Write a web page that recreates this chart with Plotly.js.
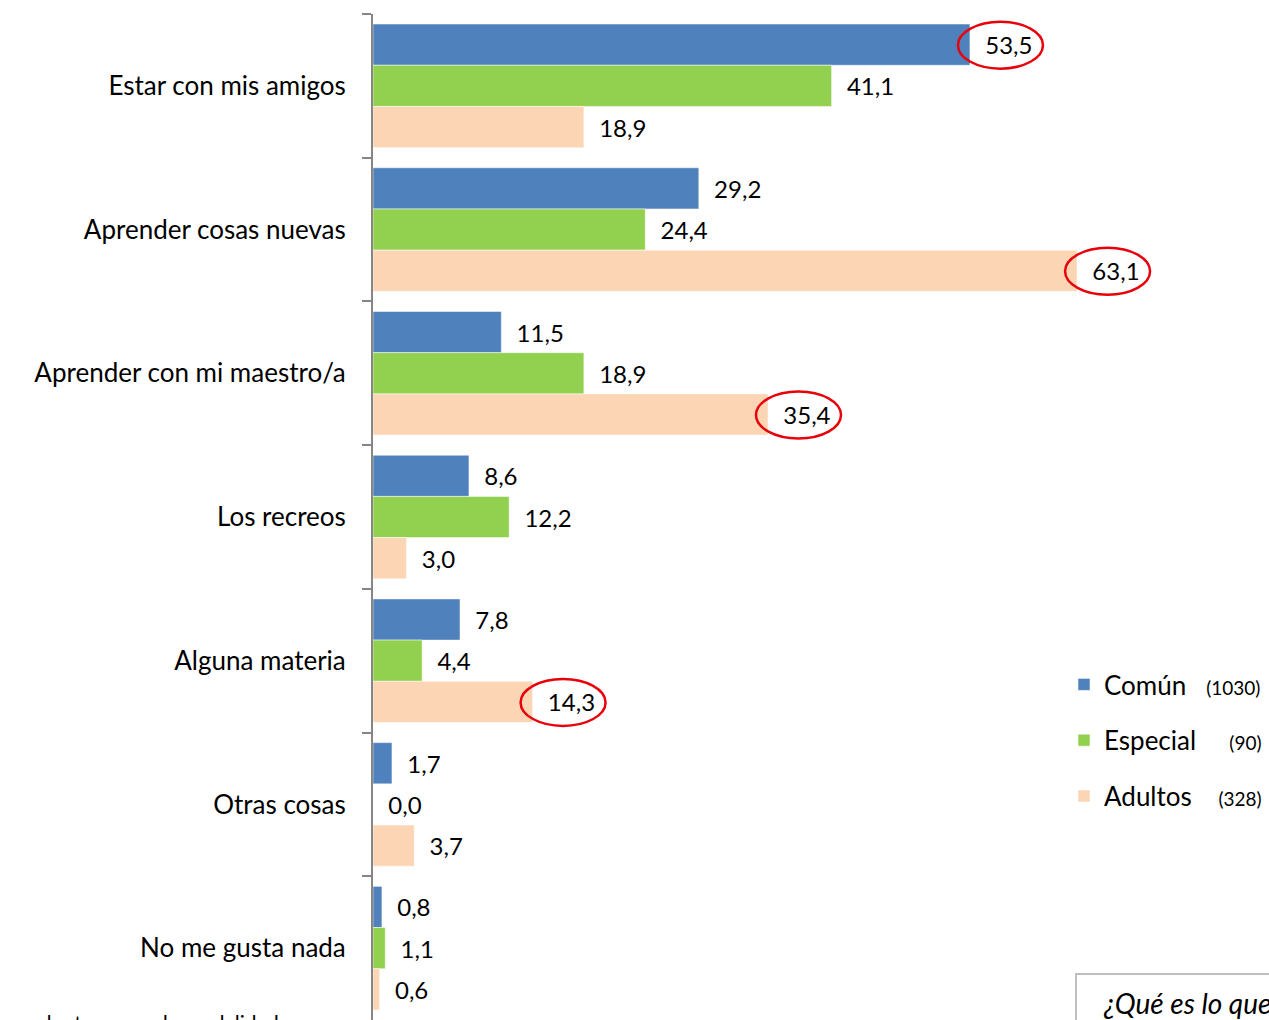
<!DOCTYPE html>
<html>
<head>
<meta charset="utf-8">
<script src="https://cdn.plot.ly/plotly-3.0.1.min.js"></script>
<style>html,body{margin:0;padding:0;background:#fff;}#chart{width:1269px;height:1020px;}</style>
</head>
<body>
<div id="chart"></div>
<script>
const categories = ["Estar con mis amigos", "Aprender cosas nuevas", "Aprender con mi maestro/a",
  "Los recreos", "Alguna materia", "Otras cosas", "No me gusta nada"];
const seriesNames = ["Común", "Especial", "Adultos"];
const seriesCounts = ["(1030)", "(90)", "(328)"];
const comun = [53.5, 29.2, 11.5, 8.6, 7.8, 1.7, 0.8];
const especial = [41.1, 24.4, 18.9, 12.2, 4.4, 0.0, 1.1];
const adultos = [18.9, 63.1, 35.4, 3.0, 14.3, 3.7, 0.6];
// highlighted values: [series index, category index]
const highlights = [[0, 0], [2, 1], [2, 2], [2, 4]];
const footnote = "respondentes en cada modalidad";
const boxText = "¿Qué es lo que";

const seriesValues = [comun, especial, adultos];
const colors = ["#4F81BD", "#92D050", "#FCD5B5"];
const legendPad = ["\u00a0\u00a0\u00a0", "\u00a0\u00a0\u00a0\u00a0\u00a0", "\u00a0\u00a0\u00a0\u00a0"];
const FONT = "Lato, 'Open Sans', sans-serif";
const fmt = v => "\u00a0\u00a0" + v.toFixed(1).replace(".", ",");

const W = 1269, H = 1020, L = 373, T = 14;
const plotW = W - L, plotH = H - T;
const bargap = 0.14;
const barW = (1 - bargap) / 3;
const xMax = 80.3;
const px = p => (p - L) / plotW;          // pixel x -> paper
const py = p => (H - p) / plotH;          // pixel y -> paper

const traces = seriesValues.map((vals, i) => ({
  type: "bar",
  orientation: "h",
  name: seriesNames[i] + legendPad[i] + "<span style='font-size:19px'>" + seriesCounts[i] + "</span>",
  legendgroup: "g" + i,
  y: categories,
  x: vals,
  text: vals.map(fmt),
  textposition: "outside",
  constraintext: "none",
  cliponaxis: false,
  textfont: {family: FONT, size: 24, color: "#000"},
  marker: {color: colors[i], line: {color: "rgba(255,255,255,0.5)", width: 1}},
  hoverinfo: "skip"
}));

const shapes = highlights.map(([s, c]) => ({
  type: "circle",
  xref: "x", yref: "y",
  xsizemode: "pixel", ysizemode: "pixel",
  xanchor: seriesValues[s][c],
  yanchor: c + (s - 1) * barW,
  x0: -12, x1: 73, y0: -24, y1: 23,
  line: {color: "#E8000B", width: 2.5},
  fillcolor: "rgba(0,0,0,0)"
}));
shapes.push({
  type: "rect", xref: "paper", yref: "paper",
  x0: px(1076), x1: px(1300), y0: py(1060), y1: py(974),
  line: {color: "#BFBFBF", width: 2}, fillcolor: "#fff", layer: "above"
});

const layout = {
  width: W, height: H,
  margin: {l: L, r: 0, t: T, b: 0, pad: 0, autoexpand: false},
  paper_bgcolor: "#fff", plot_bgcolor: "rgba(0,0,0,0)",
  barmode: "group", bargap: bargap, bargroupgap: 0,
  showlegend: true,
  legend: {
    x: px(1064), y: py(661), xanchor: "left", yanchor: "top",
    font: {family: FONT, size: 26, color: "#000"},
    traceorder: "grouped", tracegroupgap: 19,
    bgcolor: "rgba(0,0,0,0)", borderwidth: 0
  },
  xaxis: {
    range: [0, xMax], showgrid: false, zeroline: false, showline: false,
    showticklabels: false, ticks: "", fixedrange: true
  },
  yaxis: {
    type: "category", autorange: "reversed",
    showline: true, linecolor: "#868686", linewidth: 2,
    ticks: "outside", tickson: "boundaries", ticklen: 9, tickcolor: "#868686", tickwidth: 2,
    ticklabelstandoff: 20,
    tickfont: {family: FONT, size: 26, color: "#000"},
    showgrid: false, zeroline: false, fixedrange: true
  },
  shapes: shapes,
  annotations: [
    {xref: "paper", yref: "paper", x: px(281), y: py(1008), xanchor: "right", yanchor: "top",
     text: footnote, showarrow: false, font: {family: FONT, size: 21, color: "#000"}},
    {xref: "paper", yref: "paper", x: px(1101), y: py(984), xanchor: "left", yanchor: "top",
     text: "<i>" + boxText + "</i>", showarrow: false, font: {family: FONT, size: 28, color: "#000"}}
  ]
};

Plotly.newPlot("chart", traces, layout, {displayModeBar: false, staticPlot: true});
</script>
</body>
</html>
